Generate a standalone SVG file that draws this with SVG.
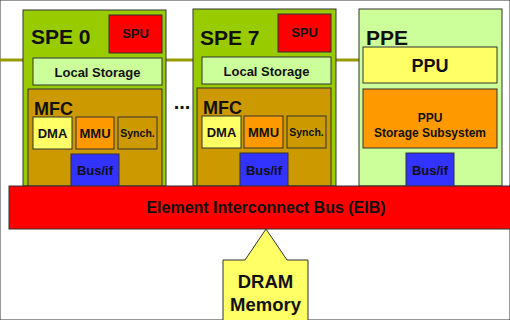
<svg xmlns="http://www.w3.org/2000/svg" width="510" height="320" viewBox="0 0 510 320">
<style>
rect,path{stroke:#333;stroke-width:1}
text{font-family:"Liberation Sans",Arial,sans-serif;font-weight:bold;fill:#111;text-anchor:middle}
.spe{fill:#99CC00}
.lg{fill:#CCFF99}
.red{fill:#FF0000}
.mfc{fill:#CC9900}
.yel{fill:#FFFF66}
.org{fill:#FF9900}
.bus{fill:#3333FF}
.big{font-size:21px;text-anchor:start}
.mid{font-size:13px}
.sm{font-size:10.5px}
</style>
<rect width="510" height="320" fill="#fff" stroke="none"/>
<g id="connectors">
<line x1="0" y1="60" x2="359" y2="60" stroke="#999900" stroke-width="3"/>
</g>
<g id="spe0">
<rect class="spe" x="23" y="10" width="143" height="176"/>
<text class="big" x="31" y="44">SPE 0</text>
<rect class="red" x="109" y="15" width="53" height="38"/>
<text class="mid" x="135.5" y="38">SPU</text>
<rect class="lg" x="33" y="58" width="129" height="27"/>
<text class="mid" x="97.5" y="77">Local Storage</text>
<rect class="mfc" x="28" y="89" width="134" height="97"/>
<text class="big" x="34" y="115" style="font-size:18px">MFC</text>
<rect class="yel" x="33" y="117" width="39" height="32"/>
<text class="mid" x="52.5" y="138">DMA</text>
<rect class="org" x="76" y="117" width="38" height="32"/>
<text class="mid" x="95" y="138">MMU</text>
<rect class="mfc" x="118" y="117" width="39" height="32"/>
<text class="sm" x="137.5" y="137">Synch.</text>
<rect class="bus" x="71" y="154" width="48" height="33"/>
<text class="mid" x="95" y="175">Bus/if</text>
</g>
<g id="dots">
<text x="182" y="109" style="font-size:20px">...</text>
</g>
<g id="spe7">
<rect class="spe" x="193" y="9" width="143" height="177"/>
<text class="big" x="200" y="45">SPE 7</text>
<rect class="red" x="278" y="14" width="53" height="38"/>
<text class="mid" x="304.5" y="37">SPU</text>
<rect class="lg" x="202" y="57" width="129" height="27"/>
<text class="mid" x="266.5" y="76">Local Storage</text>
<rect class="mfc" x="197" y="88" width="134" height="98"/>
<text class="big" x="203" y="114" style="font-size:18px">MFC</text>
<rect class="yel" x="202" y="116" width="39" height="32"/>
<text class="mid" x="221.5" y="137">DMA</text>
<rect class="org" x="244" y="116" width="39" height="32"/>
<text class="mid" x="263.5" y="137">MMU</text>
<rect class="mfc" x="287" y="116" width="39" height="32"/>
<text class="sm" x="306.5" y="136">Synch.</text>
<rect class="bus" x="240" y="153" width="48" height="34"/>
<text class="mid" x="264" y="175">Bus/if</text>
</g>
<g id="ppe">
<rect class="lg" x="359" y="9" width="143" height="177"/>
<text class="big" x="366" y="45">PPE</text>
<rect class="yel" x="363" y="47" width="134" height="36"/>
<text x="430" y="72" style="font-size:18px">PPU</text>
<rect class="org" x="363" y="89" width="134" height="59"/>
<text x="430" y="122" style="font-size:12px">PPU</text>
<text x="430" y="137" style="font-size:12px">Storage Subsystem</text>
<rect class="bus" x="406" y="153" width="48" height="34"/>
<text class="mid" x="430" y="175">Bus/if</text>
</g>
<g id="eib">
<rect class="red" x="9" y="186" width="505" height="43"/>
<text x="266" y="213" style="font-size:16px">Element Interconnect Bus (EIB)</text>
</g>
<g id="dram">
<path class="yel" d="M223,260 L245,260 L266,229 L287,260 L308,260 L308,325 L223,325 Z"/>
<text x="265.5" y="288" style="font-size:18.5px">DRAM</text>
<text x="265.5" y="311" style="font-size:18.5px">Memory</text>
</g>
</svg>
